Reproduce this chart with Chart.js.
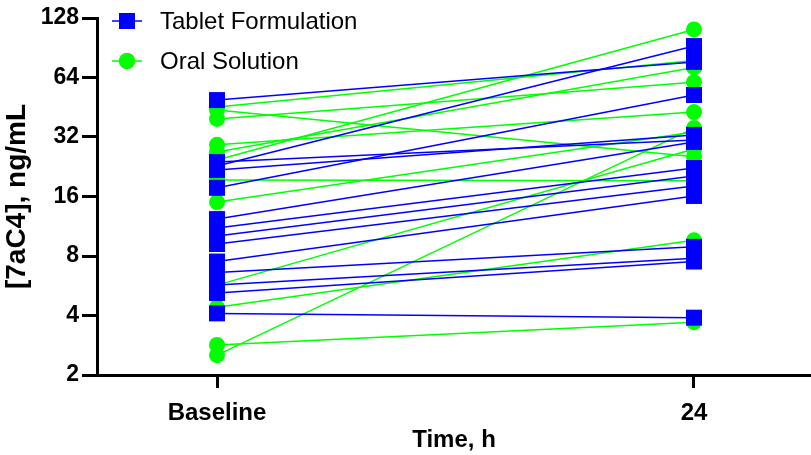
<!DOCTYPE html>
<html>
<head>
<meta charset="utf-8">
<script src="https://cdn.jsdelivr.net/npm/chart.js@4.4.1/dist/chart.umd.min.js"></script>
<style>
  html, body { margin: 0; padding: 0; background: #fff; }
  #wrap { width: 811px; height: 455px; position: relative; }
</style>
</head>
<body>
<div id="wrap"><canvas id="c"></canvas></div>
<script>
// ---- data ----
const timeLabels = ['Baseline', '24'];
const yTicks = [2, 4, 8, 16, 32, 64, 128];
const seriesNames = ['Tablet Formulation', 'Oral Solution'];

// Tablet Formulation: one value per subject at baseline and at 24 h (ng/mL)
const tabletBaseline = [49.2, 22.8, 17.7, 23.9, 21.8, 12.3, 11.1, 10.1, 9.2, 7.5, 6.6, 5.7, 5.2, 4.1];
const tablet24h      = [76.7, 92.3, 52.2, 30.9, 32.8, 30.2, 22.3, 20.3, 18.1, 16.1, 8.9, 7.8, 7.5, 3.9];

// Oral Solution: one value per subject at baseline and at 24 h (ng/mL)
const oralBaseline = [43.8, 45.4, 39.5, 29.2, 26.9, 24.5, 19.4, 15.0, 5.7, 4.4, 2.84, 2.52];
const oral24h      = [25.4, 78.0, 60.6, 42.8, 72.0, 112, 19.2, 33.9, 27.8, 9.6, 3.7, 35.5];

const BLUE = '#0000FF';
const GREEN = '#00FF00';

function subjectSets(base, after, color, style, radius) {
  return base.map((b, i) => ({
    label: seriesNames[style === 'rect' ? 0 : 1],
    data: [{ x: 0, y: b }, { x: 1, y: after[i] }],
    borderColor: color,
    backgroundColor: color,
    borderWidth: 1.5,
    pointStyle: style,
    pointRadius: radius,
    pointBorderWidth: 0,
    pointBackgroundColor: color,
    showLine: true,
    clip: false
  }));
}

const datasets = [
  ...subjectSets(tabletBaseline, tablet24h, BLUE, 'rect', 11.3),
  ...subjectSets(oralBaseline, oral24h, GREEN, 'circle', 8)
];

const legendItems = [
  { label: seriesNames[0], color: BLUE, style: 'rect', radius: 11.3 },
  { label: seriesNames[1], color: GREEN, style: 'circle', radius: 8 }
];

const customLegend = {
  id: 'customLegend',
  afterDraw(chart) {
    const { ctx, chartArea } = chart;
    ctx.save();
    legendItems.forEach((it, i) => {
      const cx = chartArea.left + 30;
      const cy = chartArea.top + 3 + i * 40;
      ctx.strokeStyle = it.color;
      ctx.lineWidth = 1.5;
      ctx.beginPath();
      ctx.moveTo(cx - 15, cy);
      ctx.lineTo(cx + 15, cy);
      ctx.stroke();
      ctx.fillStyle = it.color;
      Chart.helpers.drawPoint(ctx, { pointStyle: it.style, radius: it.radius, borderWidth: 0 }, cx, cy);
      ctx.fill();
      ctx.fillStyle = '#000';
      ctx.font = '24px "Liberation Sans", Arial, sans-serif';
      ctx.textBaseline = 'middle';
      ctx.textAlign = 'left';
      ctx.fillText(it.label, cx + 33, cy + 1);
    });
    ctx.restore();
  }
};

Chart.defaults.font.family = '"Liberation Sans", Arial, sans-serif';
Chart.defaults.color = '#000';

new Chart(document.getElementById('c'), {
  type: 'scatter',
  data: { datasets },
  options: {
    responsive: true,
    maintainAspectRatio: false,
    animation: false,
    devicePixelRatio: 1,
    layout: { autoPadding: false, padding: { top: 18, right: 0, left: 0, bottom: 0 } },
    plugins: { legend: { display: false }, tooltip: { enabled: false } },
    scales: {
      x: {
        type: 'linear',
        min: -0.2516,
        max: 1.2453,
        afterBuildTicks: s => { s.ticks = timeLabels.map((_, i) => ({ value: i })); },
        afterFit: s => { s.height = 80; s.paddingLeft = 0; s.paddingRight = 0; },
        ticks: {
          callback: (v, i) => timeLabels[i],
          font: { size: 24, weight: 'bold' },
          color: '#000',
          padding: 11,
          autoSkip: false,
          maxRotation: 0
        },
        grid: { drawOnChartArea: false, drawTicks: true, tickLength: 13, tickWidth: 3, tickColor: '#000' },
        border: { display: true, color: '#000', width: 3 },
        title: { display: true, text: 'Time, h', font: { size: 24, weight: 'bold' }, color: '#000', padding: { top: 0, bottom: 0 } }
      },
      y: {
        type: 'logarithmic',
        min: 2,
        max: 128,
        afterBuildTicks: s => { s.ticks = yTicks.map(v => ({ value: v })); },
        afterFit: s => { s.width = 97; s.paddingTop = 0; s.paddingBottom = 0; },
        ticks: {
          callback: v => String(v),
          font: { size: 23, weight: 'bold' },
          color: '#000',
          padding: 3
        },
        grid: { drawOnChartArea: false, drawTicks: true, tickLength: 15, tickWidth: 3, tickColor: '#000' },
        border: { display: true, color: '#000', width: 3 },
        title: { display: true, text: '[7aC4], ng/mL', font: { size: 28, weight: 'bold' }, color: '#000', padding: { top: 0, bottom: 0 } }
      }
    }
  },
  plugins: [customLegend]
});
</script>
</body>
</html>
